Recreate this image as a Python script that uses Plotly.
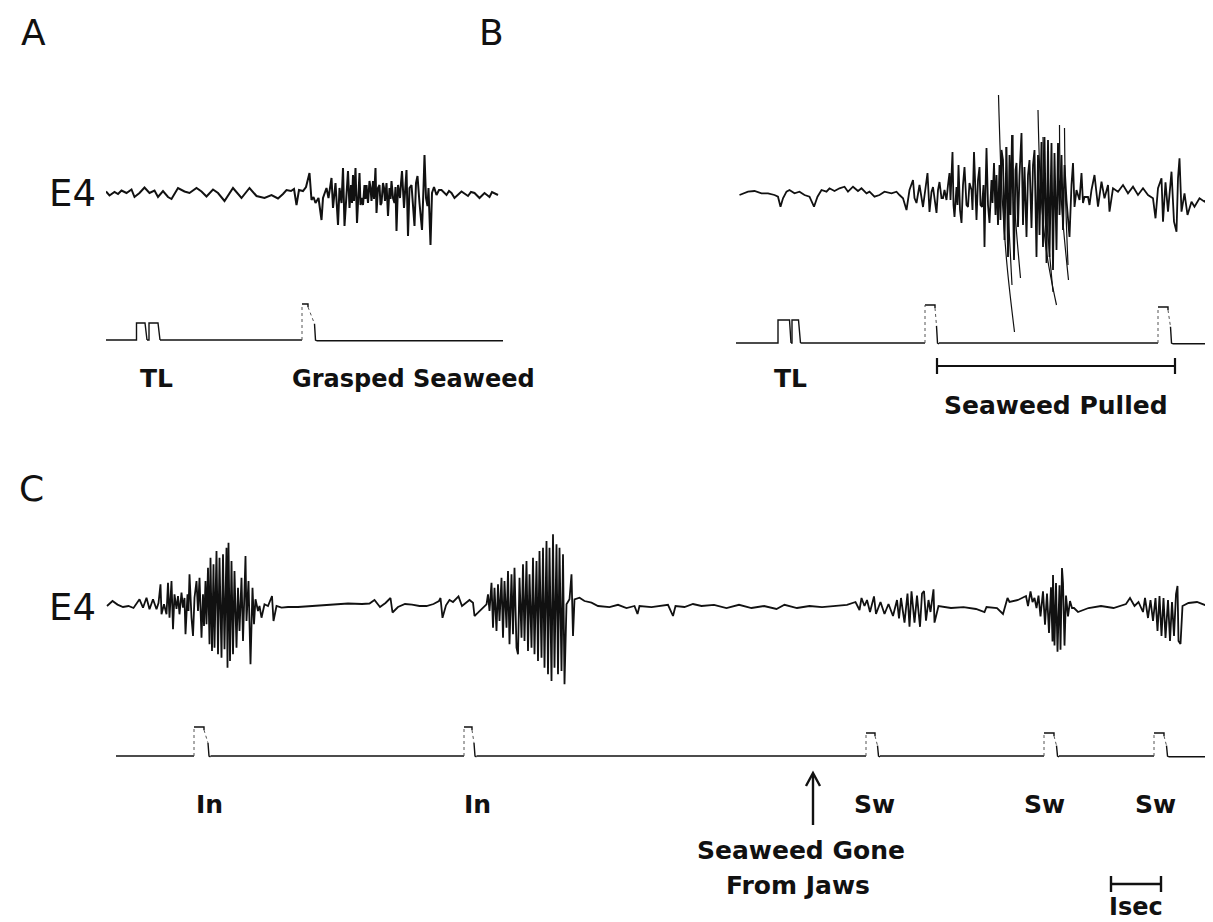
import plotly.graph_objects as go

W, H = 1213, 922

# ---------------- DATA ----------------
# Panel A, E4 trace: (time s, amplitude a.u.)
A_E4 = [(0.00, 1.5), (0.07, -2.5), (0.17, 1.0), (0.24, -1.0), (0.31, 2.5), (0.41, 0.0), (0.51, 3.5), (0.57, -4.0),
        (0.67, 0.0), (0.77, 5.5), (0.87, 0.0), (0.97, 2.5), (1.04, -4.0), (1.14, 2.0), (1.24, -4.0), (1.31, -6.0),
        (1.44, 5.0), (1.57, 1.5), (1.67, 0.0), (1.81, 5.0), (1.91, 1.5), (2.01, -3.5), (2.14, 3.5), (2.24, 0.0),
        (2.37, -8.0), (2.54, 5.0), (2.71, -5.0), (2.87, 5.0), (3.01, -3.0), (3.17, -5.0), (3.31, -2.0), (3.44, -5.5),
        (3.54, -1.0), (3.61, 3.0), (3.70, 2.0), (3.76, 4.0), (3.81, -12.0), (3.86, 3.0), (3.94, 2.0), (4.00, 6.0),
        (4.07, 20.0), (4.11, -7.0), (4.15, -4.0), (4.19, -10.0), (4.25, -5.0), (4.31, -27.0), (4.34, -5.0),
        (4.41, 5.0), (4.45, -5.0), (4.51, 15.0), (4.54, -15.0), (4.59, 10.0), (4.64, -32.0), (4.67, 5.0),
        (4.71, -10.0), (4.74, 25.0), (4.77, -33.0), (4.81, 5.0), (4.84, 22.0), (4.87, -15.0), (4.90, 8.0),
        (4.92, -10.0), (4.94, 18.0), (4.96, -8.0), (4.99, 25.0), (5.02, -30.0), (5.05, 10.0), (5.07, 20.0),
        (5.09, -12.0), (5.11, -5.0), (5.14, -12.0), (5.17, 8.0), (5.19, -6.0), (5.21, 8.0), (5.24, -10.0),
        (5.27, 12.0), (5.29, 5.0), (5.31, -8.0), (5.34, 12.0), (5.36, -6.0), (5.39, 25.0), (5.41, -20.0),
        (5.44, 5.0), (5.47, 8.0), (5.49, -12.0), (5.51, -10.0), (5.54, 10.0), (5.56, 5.0), (5.58, -8.0),
        (5.61, 10.0), (5.64, -23.0), (5.67, 5.0), (5.69, -6.0), (5.71, 12.0), (5.74, -5.0), (5.77, -10.0),
        (5.79, 6.0), (5.81, -38.0), (5.84, 8.0), (5.88, -5.0), (5.90, 10.0), (5.92, 22.0), (5.96, -15.0),
        (5.98, 6.0), (6.01, 23.0), (6.04, -43.0), (6.07, 5.0), (6.11, 8.0), (6.14, -10.0), (6.17, -33.0),
        (6.20, 10.0), (6.23, 17.0), (6.27, -10.0), (6.32, -37.0), (6.35, 5.0), (6.37, 38.0), (6.40, -5.0),
        (6.43, -13.0), (6.45, 5.0), (6.49, -52.0), (6.52, 0.0), (6.56, 6.0), (6.61, -2.0), (6.66, 3.0),
        (6.71, 3.0), (6.76, 0.0), (6.81, -2.0), (6.86, 2.0), (6.91, 0.0), (6.97, -5.0), (7.04, -2.0),
        (7.11, 1.5), (7.24, -3.0), (7.30, 1.0), (7.37, 0.0), (7.47, -5.0), (7.57, 0.0), (7.67, -4.0),
        (7.72, 1.0), (7.77, 0.0), (7.84, -2.0)]

# Panel A event channel: end of line (s) and pulses (rise, cap end, fall, height, kind)
A_EVENT_END = 7.94
A_PULSES = [(0.61, 0.78, 0.82, 17, "solid"), (0.86, 1.04, 1.08, 17, "solid"),
            (3.92, 4.04, 4.18, 36, "fast")]

# Panel B, E4 trace
B_E4 = [(0.07, 0.0), (0.24, 3.3), (0.37, 4.0), (0.51, 1.7), (0.64, 1.7), (0.77, 0.0), (0.84, -1.7), (0.89, -11.7),
        (0.94, -3.3), (1.01, 3.3), (1.07, 5.0), (1.17, 1.7), (1.27, 3.3), (1.37, 0.0), (1.47, -1.7), (1.56, -11.7),
        (1.63, -1.7), (1.71, 5.0), (1.81, 3.3), (1.87, 6.7), (1.97, 4.0), (2.07, 6.7), (2.17, 8.3), (2.24, 3.3),
        (2.34, 8.3), (2.44, 4.0), (2.51, 6.7), (2.61, 1.7), (2.67, 3.3), (2.77, -1.7), (2.87, 0.0), (2.97, 3.3),
        (3.11, 1.7), (3.21, 3.3), (3.27, 0.0), (3.34, -3.3), (3.41, -15.0), (3.47, 5.0), (3.54, 15.0),
        (3.57, -3.0), (3.61, -8.0), (3.67, 10.0), (3.74, -12.0), (3.79, 5.0), (3.83, 22.0), (3.87, -17.0),
        (3.91, 3.0), (3.94, 8.0), (3.97, -5.0), (4.01, -18.0), (4.04, 5.0), (4.07, 13.0), (4.11, -3.0),
        (4.14, -3.0), (4.17, 5.0), (4.21, -5.0), (4.24, 10.0), (4.27, 22.0), (4.29, -5.0), (4.33, 43.0),
        (4.35, -10.0), (4.37, -22.0), (4.41, 8.0), (4.43, -10.0), (4.45, 30.0), (4.48, -15.0), (4.51, -28.0),
        (4.54, 10.0), (4.57, 28.0), (4.61, -10.0), (4.64, -12.0), (4.67, 12.0), (4.71, 5.0), (4.73, -15.0),
        (4.76, 43.0), (4.79, -5.0), (4.81, -25.0), (4.84, 15.0), (4.87, 28.0), (4.89, -10.0), (4.92, -12.0),
        (4.95, 10.0), (4.97, -52.0), (4.99, 5.0), (5.01, 47.0), (5.04, -10.0), (5.07, -28.0), (5.11, 15.0),
        (5.13, -8.0), (5.16, 32.0), (5.19, -20.0), (5.21, 20.0), (5.24, -30.0), (5.27, 30.0), (5.29, -25.0),
        (5.31, 45.0), (5.34, 35.0), (5.37, -45.0), (5.41, 48.0), (5.44, -62.0), (5.47, 40.0), (5.49, -20.0),
        (5.52, 60.0), (5.56, -65.0), (5.59, 25.0), (5.61, 32.0), (5.64, -32.0), (5.67, 20.0), (5.71, 62.0),
        (5.74, -30.0), (5.77, 28.0), (5.81, -42.0), (5.84, 20.0), (5.87, 35.0), (5.91, -33.0), (5.94, 30.0),
        (5.97, 45.0), (6.01, -62.0), (6.04, 40.0), (6.07, -40.0), (6.11, 53.0), (6.14, -52.0), (6.17, 58.0),
        (6.21, -68.0), (6.24, 55.0), (6.27, -62.0), (6.31, 52.0), (6.34, -75.0), (6.37, 42.0), (6.41, -55.0),
        (6.44, 52.0), (6.47, -20.0), (6.51, 40.0), (6.54, -35.0), (6.57, 30.0), (6.61, -5.0), (6.64, -20.0),
        (6.67, -42.0), (6.71, 10.0), (6.74, 32.0), (6.77, -12.0), (6.81, 5.0), (6.84, 0.0), (6.87, -5.0),
        (6.91, 22.0), (6.94, -8.0), (6.97, -2.0), (7.04, -2.0), (7.07, -10.0), (7.11, 5.0), (7.17, 20.0),
        (7.24, -11.7), (7.31, 13.3), (7.37, -3.3), (7.44, 10.0), (7.47, -16.7), (7.54, 6.7), (7.64, 3.3),
        (7.74, 10.0), (7.84, 1.7), (7.94, 8.3), (8.04, 0.0), (8.14, 6.7), (8.24, 0.0), (8.34, -3.3),
        (8.39, -23.3), (8.44, 6.7), (8.51, 16.7), (8.54, -26.7), (8.59, 12.7), (8.64, -16.7), (8.71, 23.3),
        (8.76, -26.7), (8.81, -36.7), (8.84, 16.7), (8.87, 36.7), (8.91, -16.7), (8.97, 1.7), (9.03, -20.0),
        (9.11, -6.7), (9.17, -11.7), (9.27, -3.3), (9.37, -6.7), (9.47, -1.7), (9.57, 0.0), (9.67, -1.7)]

# Panel B, large curved (pen-arc) spikes: point lists (time s, amplitude)
B_ARCS = [[(5.25, 100), (5.32, 0), (5.42, -70), (5.57, -137)],
          [(5.40, 48), (5.43, 0), (5.52, -90)],
          [(5.54, 60), (5.56, 0), (5.69, -83)],
          [(6.04, 85), (6.10, 0), (6.22, -60), (6.41, -110)],
          [(6.14, 58), (6.18, 0), (6.34, -97)],
          [(6.47, 70), (6.50, 0), (6.65, -85)],
          [(6.57, 67), (6.59, 0), (6.64, -70)]]

B_EVENT_END = 9.70
B_PULSES = [(0.84, 1.07, 1.10, 23, "solid"), (1.12, 1.25, 1.29, 23, "solid"),
            (3.78, 3.98, 4.02, 38, "fast"), (8.44, 8.64, 8.70, 36, "fast")]
B_PULLED = (4.02, 8.78)   # seaweed pulled period (s)

# Panel C, E4 trace
C_E4 = [(0.02, 0.0), (0.13, 5.0), (0.23, 1.4), (0.34, -1.0), (0.45, 0.0), (0.55, -2.0), (0.67, 6.7), (0.74, -1.7),
        (0.81, 8.3), (0.87, -3.3), (0.94, 6.7), (1.01, -3.3), (1.05, 3.0), (1.09, 21.7), (1.11, -8.3), (1.16, 1.7),
        (1.21, -8.3), (1.24, 23.3), (1.27, -11.7), (1.31, 25.0), (1.34, -23.3), (1.37, 11.7), (1.41, -3.0),
        (1.44, 10.0), (1.47, -8.3), (1.51, 13.3), (1.54, -1.7), (1.57, 8.0), (1.59, -28.3), (1.63, 11.7),
        (1.65, -5.0), (1.67, 31.7), (1.71, -11.7), (1.74, -30.0), (1.77, 8.3), (1.81, 25.0), (1.84, -5.0),
        (1.87, 28.3), (1.91, -31.7), (1.94, 11.7), (1.96, -20.0), (1.99, 25.0), (2.01, -18.3), (2.04, 38.3),
        (2.07, -38.3), (2.09, 48.3), (2.12, -45.0), (2.15, 41.7), (2.17, -41.7), (2.21, 55.0), (2.24, -48.3),
        (2.27, 48.3), (2.31, -51.7), (2.34, 51.7), (2.37, -43.3), (2.41, 58.3), (2.43, -61.7), (2.45, 63.3),
        (2.48, -55.0), (2.51, 45.0), (2.54, -48.3), (2.57, 35.0), (2.61, -41.7), (2.64, 18.3), (2.67, -25.0),
        (2.71, 28.3), (2.74, -35.0), (2.79, 50.0), (2.81, -15.0), (2.85, 25.0), (2.89, -58.3), (2.93, 18.3),
        (2.96, -18.3), (2.99, 6.7), (3.04, -5.0), (3.07, 0.0), (3.11, -11.7), (3.17, 1.7), (3.24, 0.0),
        (3.32, 10.0), (3.35, -15.0), (3.41, 0.0), (3.51, -1.7), (3.64, -1.0), (3.84, -1.0), (4.12, 0.0),
        (4.48, 1.4), (4.84, 2.5), (5.12, 2.0), (5.27, 2.5), (5.37, 6.0), (5.48, -1.0), (5.59, 3.0), (5.69, 8.0),
        (5.73, -6.5), (5.84, -1.0), (5.98, 2.0), (6.12, 1.4), (6.27, 0.0), (6.41, 0.0), (6.55, 2.0), (6.66, 5.0),
        (6.69, 8.0), (6.73, -11.8), (6.80, 0.7), (6.87, 6.0), (6.94, 4.0), (7.05, 9.6), (7.12, 0.0), (7.27, 6.0),
        (7.34, 3.3), (7.37, -10.0), (7.44, -6.7), (7.54, -1.7), (7.61, 1.7), (7.64, 11.7), (7.67, -5.0),
        (7.71, 23.3), (7.74, -21.7), (7.77, 18.3), (7.81, -25.0), (7.84, 21.7), (7.87, -15.0), (7.91, 28.3),
        (7.94, -31.7), (7.97, 25.0), (8.01, -21.7), (8.04, 35.0), (8.07, -38.3), (8.11, 31.7), (8.14, -28.3),
        (8.17, 38.3), (8.21, -41.7), (8.24, -48.3), (8.27, 28.3), (8.31, -31.7), (8.34, 41.7), (8.37, -35.0),
        (8.41, 45.0), (8.44, -45.0), (8.47, 31.7), (8.51, -41.7), (8.54, 48.3), (8.57, -48.3), (8.61, 45.0),
        (8.64, -55.0), (8.67, 55.0), (8.71, -51.7), (8.74, 58.3), (8.77, -61.7), (8.81, 65.0), (8.84, -68.3),
        (8.87, 58.3), (8.91, -75.0), (8.94, 71.7), (8.97, -61.7), (9.01, 61.7), (9.04, -68.3), (9.07, 58.3),
        (9.11, -65.0), (9.14, 51.7), (9.17, -78.3), (9.21, 1.7), (9.27, 6.7), (9.31, 31.7), (9.34, -30.0),
        (9.37, 6.7), (9.47, 8.3), (9.57, 5.0), (9.71, 3.3), (9.84, 0.0), (10.07, -1.2), (10.24, 1.2),
        (10.41, -2.0), (10.57, 0.0), (10.63, -8.0), (10.67, 0.0), (10.91, -1.2), (11.07, 0.0), (11.24, 1.2),
        (11.34, -10.0), (11.39, 0.0), (11.57, -1.0), (11.74, 2.0), (11.91, 0.0), (12.16, 1.2), (12.41, -2.0),
        (12.66, 1.2), (12.91, -2.0), (13.16, 0.0), (13.41, -3.0), (13.57, 1.2), (13.82, -2.0), (14.07, 0.0),
        (14.32, -1.2), (14.57, 0.0), (14.82, 1.2), (14.99, 4.0), (15.07, -4.0), (15.11, 8.0), (15.17, 0.0),
        (15.22, 6.0), (15.28, -6.0), (15.36, 9.6), (15.40, -8.0), (15.49, 4.0), (15.57, -8.0), (15.65, 2.0),
        (15.74, -10.0), (15.82, 6.0), (15.86, -12.5), (15.90, 8.0), (15.97, -16.6), (16.03, 12.5),
        (16.07, -20.8), (16.11, 14.6), (16.17, -16.6), (16.22, 10.4), (16.28, -20.8), (16.32, 12.5),
        (16.36, 15.0), (16.40, -14.6), (16.45, 6.0), (16.49, -6.0), (16.55, 16.6), (16.57, -16.6),
        (16.65, 0.0), (16.90, -2.0), (17.15, -1.2), (17.40, -3.0), (17.57, -6.0), (17.61, -1.0), (17.82, -2.0),
        (17.94, -8.0), (17.99, 0.0), (18.03, 8.0), (18.07, 4.0), (18.24, 6.0), (18.40, 10.0), (18.44, 0.0),
        (18.49, 14.6), (18.53, 4.0), (18.57, 8.0), (18.61, -2.0), (18.65, 10.4), (18.69, -10.4), (18.74, 14.6),
        (18.78, -18.7), (18.82, 12.5), (18.86, -27.0), (18.90, 18.7), (18.93, -35.4), (18.94, 31.0),
        (18.97, -39.6), (19.00, 22.9), (19.03, -45.8), (19.07, 20.8), (19.09, -43.7), (19.12, 38.0),
        (19.14, 22.9), (19.17, -39.6), (19.20, 10.4), (19.24, -10.4), (19.28, 5.0), (19.32, -2.0),
        (19.36, -2.0), (19.44, -6.0), (19.65, -2.0), (19.90, 0.0), (20.15, -2.0), (20.40, 2.0), (20.48, 8.0),
        (20.57, 0.0), (20.65, 4.0), (20.74, -6.0), (20.78, 8.0), (20.84, -12.0), (20.89, 6.0), (20.94, -15.0),
        (20.99, 8.0), (21.03, -25.0), (21.07, 10.0), (21.11, -30.0), (21.15, 8.0), (21.19, -32.0), (21.24, 6.0),
        (21.28, -35.0), (21.32, 4.0), (21.36, -30.0), (21.40, 12.0), (21.43, 20.0), (21.45, -35.0),
        (21.49, -38.0), (21.53, 0.0), (21.65, 3.0), (21.82, 4.0), (21.98, 1.0), (22.15, 0.0), (22.28, -1.0)]

C_EVENT_START = 0.20
C_EVENT_END = 22.30
C_PULSES = [(1.76, 1.96, 2.05, 29, "fast"), (7.16, 7.32, 7.37, 29, "fast"),
            (15.20, 15.38, 15.44, 23, "fast"), (18.76, 18.96, 19.02, 23, "fast"),
            (20.96, 21.16, 21.22, 23, "fast")]
C_SCALE = (20.10, 21.10)   # 1 s calibration bar

INK = "#111111"
FONT = "DejaVu Sans"


def px_x(p):
    return p / W


def px_y(p):
    return 1 - p / H


fig = go.Figure()


def add_trace(points, xa, ya, width=2.0):
    fig.add_trace(go.Scatter(x=[p[0] for p in points], y=[p[1] for p in points], mode="lines",
                             line=dict(color=INK, width=width), xaxis=xa, yaxis=ya,
                             hoverinfo="skip", showlegend=False))


def add_arcs(arcs, xa, ya):
    xs, ys = [], []
    for arc in arcs:
        xs += [p[0] for p in arc] + [None]
        ys += [p[1] for p in arc] + [None]
    fig.add_trace(go.Scatter(x=xs, y=ys, mode="lines", line=dict(color=INK, width=1.2, shape="spline"),
                             xaxis=xa, yaxis=ya, hoverinfo="skip", showlegend=False, connectgaps=False))


def add_events(start, end, pulses, xa, ya):
    solid_x, solid_y, dot_x, dot_y = [], [], [], []
    cur = start
    for (tr, tc, tf, h, kind) in pulses:
        if kind == "solid":
            solid_x += [cur, tr, tr, tc, tf, None]
            solid_y += [0, 0, h, h, 0, None]
            cur = tf
        else:
            solid_x += [cur, tr, None, tr, tc, tc, None, tf - 0.01, tf + 0.01, tf + 0.04, None]
            solid_y += [0, 0, None, h, h, h - 3, None, h * 0.45, 0, -0.8, None]
            dot_x += [tr, tr, None, tc, tf - 0.01, None]
            dot_y += [0, h, None, h - 3, h * 0.45, None]
            cur = tf + 0.04
    solid_x += [cur, end]
    solid_y += [-0.8 if cur != start else 0, -0.8]
    fig.add_trace(go.Scatter(x=solid_x, y=solid_y, mode="lines", line=dict(color=INK, width=1.4),
                             xaxis=xa, yaxis=ya, hoverinfo="skip", showlegend=False))
    fig.add_trace(go.Scatter(x=dot_x, y=dot_y, mode="lines", line=dict(color="#555555", width=1, dash="dot"),
                             xaxis=xa, yaxis=ya, hoverinfo="skip", showlegend=False))


# Panel A
add_trace(A_E4, "x", "y", width=2.0)
add_events(0.0, A_EVENT_END, A_PULSES, "x", "y2")
# Panel B
add_trace(B_E4, "x2", "y3", width=1.8)
add_arcs(B_ARCS, "x2", "y3")
add_events(0.0, B_EVENT_END, B_PULSES, "x2", "y4")
t0, t1 = B_PULLED
fig.add_trace(go.Scatter(x=[t0, t0, None, t0, t1, None, t1, t1], y=[-15, -31, None, -23, -23, None, -15, -31],
                         mode="lines", line=dict(color=INK, width=2.2), xaxis="x2", yaxis="y4",
                         hoverinfo="skip", showlegend=False))
# Panel C
add_trace(C_E4, "x3", "y5", width=1.8)
add_events(C_EVENT_START, C_EVENT_END, C_PULSES, "x3", "y6")

ax_off = dict(visible=False, fixedrange=True)
fig.update_layout(
    width=W, height=H, margin=dict(l=0, r=0, t=0, b=0),
    paper_bgcolor="white", plot_bgcolor="rgba(0,0,0,0)", showlegend=False,
    xaxis=dict(domain=[px_x(98), px_x(500)], range=[0, 8.04], **ax_off),
    yaxis=dict(domain=[px_y(262), px_y(120)], range=[-77, 65], anchor="x", **ax_off),
    yaxis2=dict(domain=[px_y(347), px_y(285)], range=[-15, 47], anchor="x", **ax_off),
    xaxis2=dict(domain=[px_x(728), px_x(1213)], range=[0, 9.70], anchor="y3", **ax_off),
    yaxis3=dict(domain=[px_y(347), px_y(60)], range=[-160, 127], anchor="x2", **ax_off),
    yaxis4=dict(domain=[px_y(375), px_y(285)], range=[-40, 50], anchor="x2", **ax_off),
    xaxis3=dict(domain=[px_x(98), px_x(1213)], range=[0, 22.30], anchor="y5", **ax_off),
    yaxis5=dict(domain=[px_y(702), px_y(500)], range=[-104, 98], anchor="x3", **ax_off),
    yaxis6=dict(domain=[px_y(762), px_y(700)], range=[-14, 48], anchor="x3", **ax_off),
)

labels = [
    ("A", 25, 25, 36, False), ("B", 483, 25, 36, False), ("C", 23, 481, 36, False),
    ("E4", 64, 186, 37, False), ("E4", 64, 599, 37, False),
    ("TL", 148, 370, 25, True), ("Grasped Seaweed", 405, 371, 24, True),
    ("TL", 782, 370, 25, True), ("Seaweed Pulled", 1048, 397, 25, True),
    ("In", 201, 796, 25, True), ("In", 469, 796, 25, True),
    ("Sw", 866, 796, 25, True), ("Sw", 1036, 796, 25, True), ("Sw", 1147, 796, 25, True),
    ("Seaweed Gone", 793, 842, 25, True), ("From Jaws", 790, 877, 25, True),
    ("Isec", 1128, 899, 24, True),
]
for txt, x, y, s, bold in labels:
    fig.add_annotation(text=txt, x=px_x(x), y=px_y(y), xref="paper", yref="paper", showarrow=False,
                       xanchor="center", yanchor="middle",
                       font=dict(family=FONT, size=s, color=INK, weight="bold" if bold else "normal"))

# arrow "Seaweed Gone From Jaws"
fig.add_shape(type="line", xref="paper", yref="paper", x0=px_x(805), x1=px_x(805), y0=px_y(817), y1=px_y(766),
              line=dict(color=INK, width=2.4))
fig.add_shape(type="path", xref="paper", yref="paper",
              path=f"M {px_x(798)},{px_y(778)} L {px_x(805)},{px_y(765)} L {px_x(812)},{px_y(778)}",
              line=dict(color=INK, width=2.4))
# 1 s calibration bar
s0, s1 = C_SCALE
for xa, xb, ya, yb in [(s0, s1, 876, 876), (s0, s0, 868, 884), (s1, s1, 868, 884)]:
    fig.add_shape(type="line", xref="x3", yref="paper", x0=xa, x1=xb, y0=px_y(ya), y1=px_y(yb),
                  line=dict(color=INK, width=2.4))

fig.write_html("out.html")
